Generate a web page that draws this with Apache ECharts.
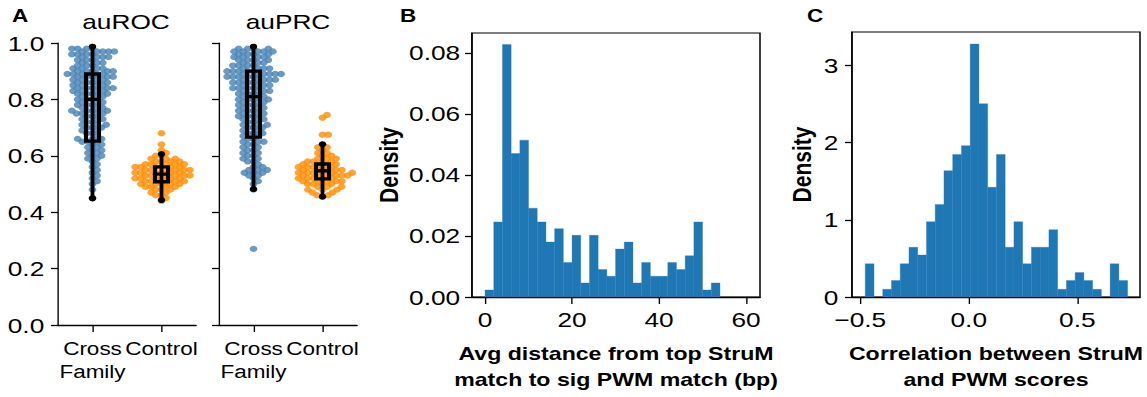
<!DOCTYPE html>
<html>
<head>
<meta charset="utf-8">
<script src="https://cdn.jsdelivr.net/npm/echarts@6/dist/echarts.min.js"></script>
<style>
  html, body { margin: 0; padding: 0; background: #fff; overflow: hidden; }
  /* the reference figure is stretched sideways, so draw narrower and stretch */
  #chart { width: 917.6px; height: 397px; transform: scaleX(1.25); transform-origin: 0 0; }
</style>
</head>
<body>
<div id="chart"></div>
<script>
// panel A: swarm values as [value, count of dots]
const rocCross = [[0.98,4],[0.97,5],[0.96,4],[0.95,4],[0.94,3],[0.93,3],[0.92,3],[0.91,4],[0.90,5],[0.89,5],
  [0.88,5],[0.87,4],[0.86,4],[0.85,4],[0.84,5],[0.83,4],[0.82,4],[0.81,3],[0.80,3],[0.79,3],[0.78,3],[0.77,3],
  [0.76,4],[0.75,4],[0.74,2],[0.73,3],[0.72,2],[0.71,3],[0.70,3],[0.69,2],[0.68,2],[0.67,1],[0.66,3],[0.65,3],
  [0.64,2],[0.63,2],[0.62,2],[0.61,2],[0.60,2],[0.59,2],[0.58,1],[0.57,1],[0.56,1],[0.55,1],[0.54,1],[0.53,1],
  [0.52,1],[0.51,1],[0.50,1],[0.48,1],[0.45,1]];
const rocControl = [[0.68,1],[0.64,1],[0.62,1],[0.61,1],[0.60,2],[0.59,3],[0.58,4],[0.57,5],[0.56,6],[0.55,6],
  [0.54,6],[0.53,6],[0.52,6],[0.51,5],[0.50,5],[0.49,4],[0.48,3],[0.47,2],[0.46,2],[0.45,1],[0.44,1]];
const prcCross = [[0.98,4],[0.97,5],[0.96,4],[0.95,4],[0.94,4],[0.93,3],[0.92,4],[0.91,4],[0.90,5],[0.89,6],
  [0.88,5],[0.87,5],[0.86,4],[0.85,4],[0.84,4],[0.83,4],[0.82,3],[0.81,3],[0.80,4],[0.79,3],[0.78,3],[0.77,3],
  [0.76,3],[0.75,3],[0.74,3],[0.73,3],[0.72,2],[0.71,3],[0.70,3],[0.69,2],[0.68,3],[0.67,2],[0.66,2],[0.65,3],
  [0.64,2],[0.63,2],[0.62,2],[0.61,2],[0.60,2],[0.59,2],[0.58,2],[0.57,1],[0.56,2],[0.55,3],[0.54,3],[0.53,2],
  [0.52,1],[0.51,1],[0.50,1],[0.48,1],[0.27,1]];
const prcControl = [[0.745,1],[0.735,1],[0.675,2],[0.64,1],[0.63,2],[0.62,1],[0.61,2],[0.60,2],[0.59,3],[0.58,4],
  [0.57,4],[0.56,5],[0.55,5],[0.54,6],[0.53,6],[0.52,5],[0.51,5],[0.50,4],[0.49,3],[0.48,3],[0.47,2],[0.46,2],[0.455,1]];

// box stats: [whisker low, q1, median, q3, whisker high]
const rocBoxes = [[0.449, 0.652, 0.80, 0.89, 0.987], [0.443, 0.508, 0.535, 0.561, 0.606]];
const prcBoxes = [[0.482, 0.666, 0.81, 0.90, 0.987], [0.455, 0.518, 0.547, 0.571, 0.641]];
const groupNames = ['Cross\nFamily', 'Control'];

// panel B histogram
const distBinStart = 0;
const distBinWidth = 2.0;
const distDensity = [0.0023, 0.0246, 0.0827, 0.0470, 0.0514, 0.0291, 0.0246, 0.0180, 0.0224, 0.0113,
  0.0202, 0.0046, 0.0202, 0.0090, 0.0068, 0.0157, 0.0180, 0.0046, 0.0113, 0.0068, 0.0068, 0.0113,
  0.0090, 0.0135, 0.0246, 0.0023, 0.0046];
const distTicks = [0, 20, 40, 60];

// panel C histogram
const corrBinStart = -0.477;
const corrBinWidth = 0.0403;
const corrDensity = [0.43, 0, 0.10, 0.215, 0.43, 0.645, 0.544, 0.975, 1.20, 1.637, 1.848, 1.962, 3.278, 2.506,
  1.422, 1.848, 0.645, 0.975, 0.43, 0.645, 0.645, 0.873, 0.10, 0.215, 0.316, 0.215, 0.10, 0, 0.43, 0.215];
const corrTicks = [-0.5, 0, 0.5];

const FONT = 'Liberation Sans';
const BLUE = '#4682b4';
const ORANGE = '#ff8c00';
const HIST = '#1f77b4';
const S = 1.25; // horizontal stretch; x positions below are screen px / S

// swarm layout in chart px
const A_W = 138 / S, A_H = 282, DOT = 4.6, DOT_SIZE = 6.3;
function swarm(pairs, center) {
  const vals = pairs.flatMap(([v, n]) => Array(n).fill(v)).sort((a, b) => a - b);
  const pxX = A_W / 2, pxY = A_H;
  const placed = [];
  const out = [];
  vals.forEach(v => {
    const y = v * pxY;
    const near = placed.filter(p => Math.abs(p.y - y) < DOT);
    const cands = [0];
    near.forEach(p => {
      const dx = Math.sqrt(DOT * DOT - (p.y - y) * (p.y - y));
      cands.push(p.x + dx, p.x - dx);
    });
    cands.sort((a, b) => Math.abs(a) - Math.abs(b));
    let x = 0;
    for (const c of cands) {
      if (near.every(p => (p.x - c) ** 2 + (p.y - y) ** 2 >= DOT * DOT - 1e-6)) { x = c; break; }
    }
    placed.push({ x, y });
    out.push([center + x / pxX, v]);
  });
  return out;
}

function histData(start, width, heights) {
  return heights.map((h, i) => [start + i * width, start + (i + 1) * width, h]);
}

function renderBox(params, api) {
  const x = api.value(0);
  const lo = api.coord([x, api.value(1)]);
  const q1 = api.coord([x, api.value(2)]);
  const md = api.coord([x, api.value(3)]);
  const q3 = api.coord([x, api.value(4)]);
  const hi = api.coord([x, api.value(5)]);
  const hw = 5.2;
  const st = { stroke: '#000', lineWidth: 3.3, fill: null, lineCap: 'round' };
  return {
    type: 'group',
    children: [
      { type: 'line', shape: { x1: lo[0], y1: lo[1], x2: hi[0], y2: hi[1] }, style: Object.assign({}, st, { lineWidth: 3 }) },
      { type: 'rect', shape: { x: q3[0] - hw, y: q3[1], width: hw * 2, height: q1[1] - q3[1] }, style: st },
      { type: 'line', shape: { x1: md[0] - hw, y1: md[1], x2: md[0] + hw, y2: md[1] }, style: st },
      { type: 'circle', shape: { cx: lo[0], cy: lo[1], r: 3 }, style: { fill: '#000' } },
      { type: 'circle', shape: { cx: hi[0], cy: hi[1], r: 3 }, style: { fill: '#000' } }
    ]
  };
}

function renderBar(params, api) {
  if (api.value(2) <= 0) return null;
  const p0 = api.coord([api.value(0), api.value(2)]);
  const p1 = api.coord([api.value(1), 0]);
  return {
    type: 'rect',
    shape: { x: p0[0], y: p0[1], width: p1[0] - p0[0], height: p1[1] - p0[1] },
    style: { fill: HIST, stroke: HIST, lineWidth: 0.3 }
  };
}

const xLine = { show: true, onZero: false, lineStyle: { color: '#000', width: 1.3 } };
const yLine = { show: true, onZero: false, lineStyle: { color: '#000', width: 1.1 } };
const xTick = { show: true, length: 7, lineStyle: { color: '#000', width: 1.1 } };
const yTick = { show: true, length: 5.6, lineStyle: { color: '#000', width: 1.3 } };
const labelStyle = { color: '#000', fontFamily: FONT, fontSize: 21 };
const nameStyle = { color: '#000', fontFamily: FONT, fontSize: 18.5, fontWeight: 'bold', lineHeight: 26 };
const yNameStyle = { color: '#000', fontFamily: FONT, fontSize: 21, fontWeight: 'bold' };

function catAxis(grid) {
  return {
    type: 'category', gridIndex: grid, data: groupNames,
    axisLine: xLine, axisTick: Object.assign({ alignWithLabel: true }, xTick),
    axisLabel: { interval: 0, margin: 12, lineHeight: 23, color: '#000', fontFamily: FONT, fontSize: 18 },
    splitLine: { show: false }
  };
}
function hiddenX(grid) {
  return { type: 'value', gridIndex: grid, min: -0.5, max: 1.5, show: false };
}
function aucY(grid, showLabels) {
  return {
    type: 'value', gridIndex: grid, min: 0, max: 1, interval: 0.2,
    axisLine: yLine, axisTick: yTick,
    axisLabel: Object.assign({ show: showLabels, margin: 11, formatter: v => v.toFixed(1) }, labelStyle),
    splitLine: { show: false }
  };
}

const chart = echarts.init(document.getElementById('chart'), null, { renderer: 'svg' });
chart.setOption({
  backgroundColor: '#fff',
  animation: false,
  textStyle: { fontFamily: FONT },
  grid: [
    { left: 58 / S, top: 43, width: A_W, height: A_H },
    { left: 219 / S, top: 43, width: A_W, height: A_H },
    { left: 472 / S, top: 33, width: 288 / S, height: 271, show: true, borderColor: '#000', borderWidth: 1.2 },
    { left: 852 / S, top: 32, width: 288 / S, height: 272, show: true, borderColor: '#000', borderWidth: 1.2 }
  ],
  xAxis: [
    catAxis(0), hiddenX(0), catAxis(1), hiddenX(1),
    {
      type: 'value', gridIndex: 2, min: -3, max: 63.2,
      axisLine: xLine, axisTick: Object.assign({ customValues: distTicks }, xTick),
      axisLabel: Object.assign({ customValues: distTicks, margin: 12 }, labelStyle),
      splitLine: { show: false },
      name: 'Avg distance from top StruM\nmatch to sig PWM match (bp)',
      nameLocation: 'middle', nameGap: 43, nameTextStyle: nameStyle
    },
    {
      type: 'value', gridIndex: 3, min: -0.538, max: 0.789,
      axisLine: xLine, axisTick: Object.assign({ customValues: corrTicks }, xTick),
      axisLabel: Object.assign({ customValues: corrTicks, margin: 12,
        formatter: v => (v < 0 ? '\u2212' : '') + Math.abs(v).toFixed(1) }, labelStyle),
      splitLine: { show: false },
      name: 'Correlation between StruM\nand PWM scores',
      nameLocation: 'middle', nameGap: 43, nameTextStyle: nameStyle
    }
  ],
  yAxis: [
    aucY(0, true), aucY(1, false),
    {
      type: 'value', gridIndex: 2, min: 0, max: 0.0865, interval: 0.02,
      axisLine: yLine, axisTick: yTick,
      axisLabel: Object.assign({ margin: 9.5, formatter: v => v.toFixed(2), showMaxLabel: false }, labelStyle),
      splitLine: { show: false },
      name: 'Density', nameLocation: 'middle', nameGap: 56, nameTextStyle: yNameStyle
    },
    {
      type: 'value', gridIndex: 3, min: 0, max: 3.435, interval: 1,
      axisLine: yLine, axisTick: yTick,
      axisLabel: Object.assign({ margin: 11, showMaxLabel: false }, labelStyle),
      splitLine: { show: false },
      name: 'Density', nameLocation: 'middle', nameGap: 30, nameTextStyle: yNameStyle
    }
  ],
  series: [
    { type: 'scatter', xAxisIndex: 1, yAxisIndex: 0, symbolSize: DOT_SIZE, itemStyle: { color: BLUE }, data: swarm(rocCross, 0), z: 2 },
    { type: 'scatter', xAxisIndex: 1, yAxisIndex: 0, symbolSize: DOT_SIZE, itemStyle: { color: ORANGE }, data: swarm(rocControl, 1), z: 2 },
    { type: 'scatter', xAxisIndex: 3, yAxisIndex: 1, symbolSize: DOT_SIZE, itemStyle: { color: BLUE }, data: swarm(prcCross, 0), z: 2 },
    { type: 'scatter', xAxisIndex: 3, yAxisIndex: 1, symbolSize: DOT_SIZE, itemStyle: { color: ORANGE }, data: swarm(prcControl, 1), z: 2 },
    { type: 'custom', xAxisIndex: 1, yAxisIndex: 0, renderItem: renderBox, data: rocBoxes.map((b, i) => [i].concat(b)), z: 5 },
    { type: 'custom', xAxisIndex: 3, yAxisIndex: 1, renderItem: renderBox, data: prcBoxes.map((b, i) => [i].concat(b)), z: 5 },
    { type: 'custom', xAxisIndex: 4, yAxisIndex: 2, renderItem: renderBar, clip: true, data: histData(distBinStart, distBinWidth, distDensity) },
    { type: 'custom', xAxisIndex: 5, yAxisIndex: 3, renderItem: renderBar, clip: true, data: histData(corrBinStart, corrBinWidth, corrDensity) }
  ],
  graphic: [
    { type: 'text', left: 12 / S, top: 7, style: { text: 'A', fontFamily: FONT, fontSize: 18, fontWeight: 'bold', fill: '#000' } },
    { type: 'text', left: 400 / S, top: 7, style: { text: 'B', fontFamily: FONT, fontSize: 18, fontWeight: 'bold', fill: '#000' } },
    { type: 'text', left: 807 / S, top: 7, style: { text: 'C', fontFamily: FONT, fontSize: 18, fontWeight: 'bold', fill: '#000' } },
    { type: 'text', x: 126 / S, y: 21, style: { text: 'auROC', fontFamily: FONT, fontSize: 21, fill: '#000', textAlign: 'center', textVerticalAlign: 'middle' } },
    { type: 'text', x: 288 / S, y: 21, style: { text: 'auPRC', fontFamily: FONT, fontSize: 21, fill: '#000', textAlign: 'center', textVerticalAlign: 'middle' } }
  ]
});
</script>
</body>
</html>
